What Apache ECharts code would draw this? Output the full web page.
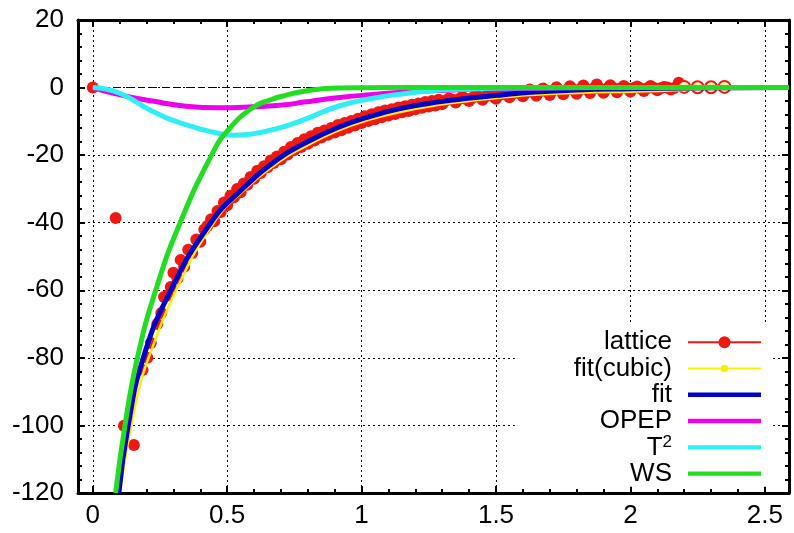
<!DOCTYPE html>
<html><head><meta charset="utf-8">
<script src="https://cdn.jsdelivr.net/npm/echarts@6/dist/echarts.min.js"></script>
<style>html,body{margin:0;padding:0;background:#fff}#c{width:794px;height:533px}</style>
</head><body><div id="c"></div>
<script>
// ---- data ----
const xMajorTicks = [0, 0.5, 1, 1.5, 2, 2.5];
const xMinorTicks = [0.1,0.2,0.3,0.4,0.6,0.7,0.8,0.9,1.1,1.2,1.3,1.4,1.6,1.7,1.8,1.9,2.1,2.2,2.3,2.4];
const seriesNames = ['lattice', 'fit(cubic)', 'fit', 'OPEP', 'T\u00B2', 'WS'];

const latticePoints = [
 [0,0],[0.085,-38.6],[0.116,-100.1],[0.153,-105.8],[0.185,-83.6],[0.203,-80],[0.216,-75.6],
 [0.24,-70],[0.255,-66.7],[0.265,-62],[0.28,-61.5],[0.29,-59],[0.30,-54.8],[0.315,-56.5],
 [0.327,-51],[0.34,-53],[0.355,-48],[0.37,-49],[0.385,-45],[0.40,-45.6],[0.415,-42],[0.426,-41],
 [0.44,-39],[0.452,-39.6],[0.464,-36.5],[0.476,-36.8],[0.488,-34],[0.50,-34.8],[0.512,-32],
 [0.525,-32.5],[0.537,-30],[0.55,-31],[0.562,-28.4],[0.575,-28.8],[0.587,-26.5],[0.60,-27],
 [0.612,-24.6],[0.625,-25.3],[0.637,-23.3],[0.65,-23.6],[0.662,-21.6],[0.673,-22.3],[0.685,-20.4],
 [0.70,-21.2],[0.712,-19],[0.725,-19.8],[0.737,-17.6],[0.75,-18.5],[0.762,-16.4],[0.775,-17.6],
 [0.787,-15.3],[0.80,-16.6],[0.812,-14.4],[0.825,-15.7],[0.837,-13.4],[0.85,-14.8],[0.862,-12.7],
 [0.875,-14.0],[0.887,-12.0],[0.90,-13.3],[0.912,-11.1],[0.925,-12.6],[0.937,-10.5],[0.95,-11.9],
 [0.962,-9.9],[0.975,-11.2],[0.987,-9.2],[1.0,-10.5],[1.012,-8.5],[1.025,-9.9],[1.037,-7.9],
 [1.05,-9.4],[1.062,-7.3],[1.075,-8.8],[1.087,-6.8],[1.10,-8.3],[1.112,-6.4],[1.125,-7.8],
 [1.137,-5.9],[1.15,-7.3],[1.162,-5.5],[1.175,-6.9],[1.187,-5.1],[1.20,-6.4],[1.212,-4.7],
 [1.225,-6.0],[1.237,-4.3],[1.25,-5.6],[1.262,-4.0],[1.275,-5.3],[1.287,-3.6],[1.30,-4.9],
 [1.325,-3.2],[1.35,-4.4],[1.375,-2.7],[1.40,-4.0],[1.425,-2.3],[1.45,-3.6],[1.475,-1.9],
 [1.50,-3.3],[1.525,-1.4],[1.55,-2.9],[1.575,-1.0],[1.60,-2.6],[1.625,-0.6],[1.65,-2.4],
 [1.675,-0.3],[1.70,-2.2],[1.725,0.1],[1.75,-2.0],[1.775,0.4],[1.80,-1.8],[1.825,0.6],
 [1.85,-1.6],[1.875,0.9],[1.90,-1.5],[1.925,0.7],[1.95,-1.4],[1.975,0.5],[2.0,-1.2],
 [2.025,0.3],[2.05,-1.0],[2.075,0.5],[2.10,-0.8],[2.125,0.2],[2.15,-0.6],[2.18,1.4],
 [1.3125,-3.9],[1.3375,-3.6],[1.3625,-3.4],[1.3875,-3.3],[1.4125,-3.0],[1.4375,-2.8],[1.4625,-2.6],
 [1.4875,-2.5],[1.5125,-2.2],[1.5375,-2.0],[1.5625,-1.8],[1.5875,-1.7],[1.6125,-1.5],[1.6375,-1.3],
 [1.6625,-1.2],[1.6875,-1.1],[1.7125,-0.9],[1.7375,-0.8],[1.7625,-0.7],[1.7875,-0.6],[1.8125,-0.5],
 [1.8375,-0.5],[1.8625,-0.3],[1.8875,-0.4],[1.9125,-0.3],[1.9375,-0.2],[1.9625,-0.3],[1.9875,-0.2],
 [2.0125,-0.1],[2.0375,-0.3],[2.0625,-0.2],[2.0875,-0.1],[2.1125,-0.2],[2.1375,0.0],[2.1625,-0.1]
];
const latticeOpenPoints = [[2.2,0.2],[2.25,0.1],[2.3,0.1],[2.35,0.2]];

const fitX = [0.097,0.131,0.188,0.29,0.439,0.55,0.687,0.786,0.91,1.033,1.157,1.281,1.405,1.529,1.628,1.8,2.0,2.2,2.4,2.59];
const fitY = [-120,-100.4,-80,-60,-40,-30.5,-21.3,-16.6,-11.9,-8.5,-6.0,-4.3,-3.1,-2.1,-1.4,-0.7,-0.35,-0.12,-0.03,0];

const cubicX = [0.1,0.166,0.21,0.31,0.45,0.56,0.7,0.786,0.91,1.033,1.157,1.281,1.405,1.529,1.628,1.8,2.0,2.15,2.25,2.35];
const cubicY = [-120,-91,-79.5,-60,-40,-30.6,-21.6,-17.6,-12.8,-9.4,-7.0,-5.2,-3.9,-2.9,-2.2,-1.6,-1.2,-0.9,-0.4,0];

const opepX = [0,0.098,0.222,0.346,0.47,0.594,0.717,0.786,0.91,1.033,1.157,1.281,1.405,1.53,1.7,2.0,2.59];
const opepY = [0,-2.1,-4.0,-5.5,-6.0,-5.7,-5.1,-4.3,-3.0,-2.1,-1.4,-0.9,-0.5,-0.3,-0.1,0,0];

const t2X = [0,0.098,0.222,0.346,0.47,0.519,0.594,0.662,0.717,0.786,0.91,1.033,1.157,1.281,1.405,1.53,1.7,2.0,2.59];
const t2Y = [0,-1.6,-7.0,-11.0,-13.6,-14.1,-13.7,-12.6,-11.4,-9.5,-5.6,-3.3,-1.8,-0.8,-0.4,-0.15,-0.05,0,0];

const wsX = [0.085,0.119,0.166,0.234,0.325,0.442,0.5,0.594,0.662,0.717,0.786,0.91,1.1,1.5,2.59];
const wsY = [-120,-100.4,-80,-60,-40,-20,-12.9,-6.0,-3.6,-2.3,-1.1,-0.1,0,0,0];

// ---- chart ----
const FONT = '"Liberation Sans", Arial, Helvetica, sans-serif';
const zip = (xs, ys) => xs.map((x, i) => [x, ys[i]]);
const X_MIN = -0.055, X_MAX = 2.59;
const black = '#000';
const tickStyle = { color: black, width: 2 };
const gridLine = { show: true, lineStyle: { color: black, width: 1, type: [2, 3] } };

function xAx(position, ticks, major) {
  return {
    type: 'value', position, min: X_MIN, max: X_MAX,
    axisLine: { show: major, onZero: false, lineStyle: { color: black, width: 3 } },
    axisTick: { show: true, inside: true, length: major ? 7 : 4, lineStyle: tickStyle, customValues: ticks },
    axisLabel: (major && position === 'bottom')
      ? { show: true, customValues: ticks, margin: 10, fontSize: 26, fontFamily: FONT, color: black }
      : { show: false },
    splitLine: (major && position === 'bottom') ? gridLine : { show: false },
    minorTick: { show: false }
  };
}
function yAx(position) {
  const left = position === 'left';
  return {
    type: 'value', position, min: -120, max: 20, interval: 20,
    axisLine: { show: true, onZero: false, lineStyle: { color: black, width: 3 } },
    axisTick: { show: true, inside: true, length: 7, lineStyle: tickStyle },
    minorTick: { show: true, splitNumber: 5, length: 4, lineStyle: tickStyle },
    axisLabel: left ? { show: true, margin: 14, fontSize: 26, fontFamily: FONT, color: black } : { show: false },
    splitLine: left ? gridLine : { show: false }
  };
}

const corners = 'M0,0L0.01,0L0,0.01Z M72.99,14L73,14L73,13.99Z ';
const iconLattice = 'path://' + corners + 'M0,6L73,6L73,8L0,8Z M30.5,7A6,6 0 1 1 42.5,7A6,6 0 1 1 30.5,7Z';
const iconCubic = 'path://' + corners + 'M0,6L73,6L73,8L0,8Z M32.7,7A3.8,3.8 0 1 1 40.3,7A3.8,3.8 0 1 1 32.7,7Z';
const iconLine = 'path://' + corners + 'M0,4.8L73,4.8L73,9.2L0,9.2Z';

const colors = ['#f01810', '#ffee00', '#0000c8', '#ee00ee', '#30eef5', '#22dd22'];
const widths = [0, 2.5, 5, 5, 5, 5];

function lineSeries(i, data) {
  return {
    name: seriesNames[i], type: 'line', data, smooth: 0.5,
    symbol: 'none', showSymbol: false, color: colors[i],
    lineStyle: { color: colors[i], width: widths[i] }, z: 2 + i
  };
}

const latticeData = latticePoints.map(p => p.slice()).concat(
  latticeOpenPoints.map(p => ({ value: p, itemStyle: { color: '#fff2b0', borderColor: colors[0], borderWidth: 2 } }))
);

const option = {
  animation: false,
  backgroundColor: '#fff',
  grid: { left: 78, right: 5, top: 20, bottom: 40, containLabel: false },
  xAxis: [xAx('bottom', xMajorTicks, true), xAx('bottom', xMinorTicks, false),
          xAx('top', xMajorTicks, true), xAx('top', xMinorTicks, false)],
  yAxis: [yAx('left'), yAx('right')],
  legend: {
    orient: 'vertical', right: 22, top: 325, align: 'right',
    itemWidth: 73, itemHeight: 14, itemGap: 0,
    padding: [4, 11, 0, 59], backgroundColor: '#fff',
    symbolKeepAspect: false, selectedMode: false,
    itemStyle: { borderWidth: 0 },
    formatter: function (name) {
      return name === 'T\u00B2' ? '{n|T}{s|2}' : '{n|' + name + '}';
    },
    textStyle: {
      fontSize: 26, fontFamily: FONT, color: black, lineHeight: 26.3, padding: [0, 11, 0, 0],
      rich: {
        n: { fontSize: 26, fontFamily: FONT, color: black, lineHeight: 26.3 },
        s: { fontSize: 17, fontFamily: FONT, color: black, lineHeight: 17, verticalAlign: 'top' }
      }
    },
    data: [
      { name: seriesNames[0], icon: iconLattice },
      { name: seriesNames[1], icon: iconCubic },
      { name: seriesNames[2], icon: iconLine },
      { name: seriesNames[3], icon: iconLine },
      { name: seriesNames[4], icon: iconLine },
      { name: seriesNames[5], icon: iconLine }
    ]
  },
  series: [
    {
      name: seriesNames[0], type: 'scatter', data: latticeData, symbol: 'circle', symbolSize: 12,
      color: colors[0], itemStyle: { color: colors[0], opacity: 1 }, z: 2,
      markLine: {
        silent: true, symbol: ['none', 'none'], label: { show: false },
        lineStyle: { color: black, width: 1, type: [7, 5] }, data: [{ yAxis: 0 }], z: 1
      }
    },
    lineSeries(1, zip(cubicX, cubicY)),
    lineSeries(2, zip(fitX, fitY)),
    lineSeries(3, zip(opepX, opepY)),
    lineSeries(4, zip(t2X, t2Y)),
    lineSeries(5, zip(wsX, wsY))
  ]
};

echarts.init(document.getElementById('c'), null, { renderer: 'canvas' }).setOption(option);
</script></body></html>
